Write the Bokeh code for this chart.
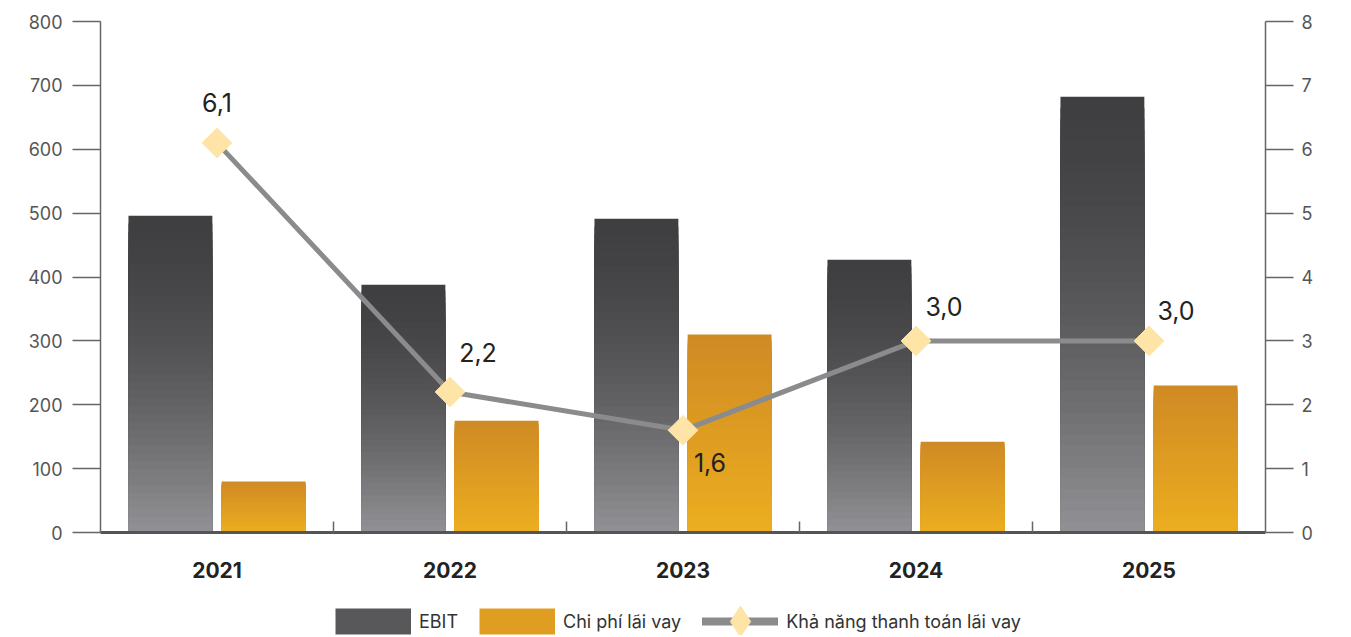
import numpy as np
from bokeh.plotting import figure
from bokeh.layouts import column
from bokeh.models import (ColumnDataSource, Range1d, LinearAxis, FixedTicker,
                          Legend, LegendItem)
from bokeh.core.properties import value
from bokeh.embed import file_html
from bokeh.resources import INLINE

# ---- data ----
years = ["2021", "2022", "2023", "2024", "2025"]
ebit = [496, 388, 491, 427, 682]
interest = [80, 175, 310, 142, 230]
coverage = [6.1, 2.2, 1.6, 3.0, 3.0]
left_ticks = [0, 100, 200, 300, 400, 500, 600, 700, 800]
right_ticks = [0, 1, 2, 3, 4, 5, 6, 7, 8]
series_names = ["EBIT", "Chi phí lãi vay", "Khả năng thanh toán lãi vay"]

# label offsets (screen px) for the coverage values
lab_dx = [0, 28, 27, 28, 27]
lab_dy = [-40, -39, 32, -34, -30]

FONT = "Inter"

def hex2rgb(h):
    h = h.lstrip("#")
    return np.array([int(h[i:i + 2], 16) for i in (0, 2, 4)], dtype=float)

def mix(c1, c2, t):
    c = hex2rgb(c1) + (hex2rgb(c2) - hex2rgb(c1)) * t
    return "#%02x%02x%02x" % tuple(int(round(v)) for v in c)

n = len(years)
xc = np.arange(n) + 0.5

p = figure(width=1345, height=590, output_backend="svg", toolbar_location=None,
           x_range=Range1d(0, n), y_range=Range1d(0, 800),
           min_border_left=100, min_border_right=80, min_border_top=21,
           min_border_bottom=58)
p.extra_y_ranges = {"right": Range1d(0, 8)}
p.xgrid.visible = False
p.ygrid.visible = False
p.outline_line_color = None

N = 40
bw = 0.36
off = 0.2
ebit_arr = np.array(ebit, dtype=float)
int_arr = np.array(interest, dtype=float)
for k in range(N):
    frac = (N - k) / N
    t = (k + 0.5) / N
    c_e = mix("#3f3f41", "#929296", t ** 1.6)
    c_i = mix("#cf8a24", "#ecae20", t)
    p.vbar(x=xc - off, top=ebit_arr * frac, bottom=0, width=bw,
           fill_color=c_e, line_color=None)
    p.vbar(x=xc + off, top=int_arr * frac, bottom=0, width=bw,
           fill_color=c_i, line_color=None)

line_src = ColumnDataSource(dict(
    x=xc, y=coverage,
    lab=[f"{v:.1f}".replace(".", ",") for v in coverage],
    dx=lab_dx, dy=lab_dy))
p.line("x", "y", source=line_src, y_range_name="right",
       line_color="#8a8b8d", line_width=5)
p.scatter("x", "y", source=line_src, y_range_name="right",
          marker="square", angle=np.pi / 4, size=21,
          fill_color="#ffe4a8", line_color="#ffe4a8")
p.text("x", "y", text="lab", source=line_src, y_range_name="right",
       x_offset="dx", y_offset="dy", text_align="center",
       text_baseline="middle", text_font=value(FONT),
       text_font_size="25px", text_color="#222222")

# axes
p.yaxis.ticker = FixedTicker(ticks=left_ticks)
ya = p.yaxis[0]
ra = LinearAxis(y_range_name="right", ticker=FixedTicker(ticks=right_ticks))
p.add_layout(ra, "right")
for ax, so in ((ya, 10), (ra, 8)):
    ax.major_tick_out = 28
    ax.major_tick_in = 0
    ax.minor_tick_out = 0
    ax.minor_tick_in = 0
    ax.axis_line_color = "#666666"
    ax.axis_line_width = 1.5
    ax.major_tick_line_color = "#666666"
    ax.major_tick_line_width = 1.5
    ax.major_label_text_font = FONT
    ax.major_label_text_font_size = "18px"
    ax.major_label_text_color = "#555555"
    ax.major_label_standoff = so

xa = p.xaxis[0]
xa.ticker = FixedTicker(ticks=list(xc), minor_ticks=list(np.arange(1, n)))
xa.major_label_overrides = {float(x): y for x, y in zip(xc, years)}
xa.major_tick_in = 0
xa.major_tick_out = 0
xa.minor_tick_in = 11
xa.minor_tick_out = 0
xa.minor_tick_line_color = "#666666"
xa.minor_tick_line_width = 1.5
xa.axis_line_color = "#555555"
xa.axis_line_width = 3
xa.major_label_text_font = FONT
xa.major_label_text_font_size = "21px"
xa.major_label_text_font_style = "bold"
xa.major_label_text_color = "#222222"
xa.major_label_standoff = 29

# ---- legend strip ----
lf = figure(width=1345, height=45, output_backend="svg", toolbar_location=None,
            x_range=Range1d(0, 1), y_range=Range1d(0, 1),
            min_border=0, min_border_left=0, min_border_right=0,
            min_border_top=0, min_border_bottom=0)
lf.axis.visible = False
lf.xgrid.visible = False
lf.ygrid.visible = False
lf.outline_line_color = None
nan_src = ColumnDataSource(dict(x=[np.nan], y=[np.nan]))
le = lf.line("x", "y", source=nan_src, line_color="#58585b", line_width=26)
li = lf.line("x", "y", source=nan_src, line_color="#df9d22", line_width=26)
ll = lf.line("x", "y", source=nan_src, line_color="#8a8b8d", line_width=8,
             line_cap="round")
lm = lf.scatter("x", "y", source=nan_src, marker="diamond",
                fill_color="#ffe4a8", line_color="#ffe4a8")
leg = Legend(items=[LegendItem(label=series_names[0], renderers=[le]),
                    LegendItem(label=series_names[1], renderers=[li]),
                    LegendItem(label=series_names[2], renderers=[ll, lm])],
             location=(235, -24))
leg.orientation = "horizontal"
leg.border_line_color = None
leg.background_fill_alpha = 0
leg.padding = 0
leg.margin = 0
leg.glyph_width = 76
leg.glyph_height = 76
leg.label_standoff = 8
leg.spacing = 21
leg.label_text_font = FONT
leg.label_text_font_size = "18px"
leg.label_text_color = "#333333"
lf.add_layout(leg, "center")

open("out.html", "w").write(file_html(column(p, lf, spacing=0), INLINE))
